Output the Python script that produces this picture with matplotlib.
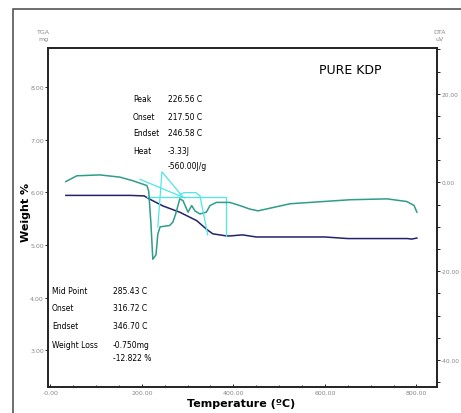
import numpy as np
import matplotlib
matplotlib.use("Agg")
import matplotlib.pyplot as plt
from matplotlib.patches import Rectangle
from matplotlib.ticker import MultipleLocator

# TGA curve (mg, left axis)
tga_t = [34, 100, 174, 205, 217, 246, 283, 320, 341, 355, 385, 393, 420, 450, 600, 650, 700, 780, 790, 801]
tga_w = [5.94, 5.94, 5.94, 5.93, 5.87, 5.74, 5.62, 5.46, 5.30, 5.21, 5.17, 5.17, 5.19, 5.15, 5.15, 5.12, 5.12, 5.12, 5.11, 5.13]

# DTA curve (uV, right axis)
dta_t = [34, 58, 108, 152, 180, 211, 215, 220, 224, 231, 235, 240, 261, 268, 274, 283, 290,
         301, 309, 316, 327, 341, 349, 363, 392, 414, 436, 454, 524, 655, 736, 779, 795, 801]
dta_v = [0.2, 1.5, 1.7, 1.2, 0.4, -0.7, -1.9, -9.4, -17.3, -16.3, -11.6, -10.0, -9.7, -8.9, -7.1, -3.7, -4.1,
         -6.7, -5.2, -6.4, -7.1, -6.7, -5.2, -4.5, -4.5, -5.2, -6.0, -6.4, -4.8, -3.9, -3.7, -4.3, -5.2, -6.7]

# construction lines
tan_t = [196, 294]
tan_v = [0.7, -3.5]
tri_t = [235, 244, 290]
tri_v = [-10.0, 2.4, -3.3]
bump_t = [283, 292, 318, 327, 344]
bump_v = [-2.8, -2.3, -2.3, -3.0, -11.8]
step_t = [211, 385, 385]
step_w = [5.91, 5.91, 5.17]

teal = '#2f9c8c'
navy = '#22226e'
cyan = '#4fe6e6'
grey = '#888888'
narrow = ['Liberation Sans Narrow', 'DejaVu Sans']

fig = plt.figure(figsize=(4.61, 4.14), dpi=100)
fig.patches.append(Rectangle((13/461, -0.1), 1.0, 1 - 10/414 + 0.1, transform=fig.transFigure,
                             fill=False, edgecolor='#555555', lw=1.2))

ax = fig.add_axes([48/461, 26/414, 389/461, 339/414])
ax2 = ax.twinx()

ax.plot(tga_t, tga_w, color=navy, lw=1.1)
ax.plot(step_t, step_w, color=cyan, lw=0.9)
ax2.plot(dta_t, dta_v, color=teal, lw=1.1)
ax2.plot(tan_t, tan_v, color=cyan, lw=0.9)
ax2.plot(tri_t, tri_v, color=cyan, lw=0.9)
ax2.plot(bump_t, bump_v, color=cyan, lw=0.9)

ax.set_xlim(-5, 845)
ax.set_ylim(2.30, 8.74)
ax2.set_ylim(-46.1, 30.3)

ax.set_xticks([0, 200, 400, 600, 800])
ax.set_xticklabels(['-0.00', '200.00', '400.00', '600.00', '800.00'])
ax.xaxis.set_minor_locator(MultipleLocator(50))
ax.set_yticks([3, 4, 5, 6, 7, 8])
ax.set_yticklabels(['3.00', '4.00', '5.00', '6.00', '7.00', '8.00'])
ax2.set_yticks([-40, -20, 0, 20])
ax2.set_yticklabels(['-40.00', '-20.00', '0.00', '20.00'])
ax2.yaxis.set_minor_locator(MultipleLocator(5))

ax.tick_params(axis='x', which='both', direction='in', length=2.5, width=0.6, labelsize=4.5,
               labelcolor=grey, pad=2)
ax.tick_params(axis='x', which='minor', length=1.5)
ax.tick_params(axis='y', direction='out', length=2, width=0.6, labelsize=4.5, labelcolor=grey, pad=1)
ax2.tick_params(axis='y', which='both', direction='out', length=2, width=0.6, labelsize=4.2,
                labelcolor=grey, pad=1)
for lbl in ax.get_xticklabels() + ax.get_yticklabels() + ax2.get_yticklabels():
    lbl.set_family(narrow)

for a in (ax, ax2):
    for s in a.spines.values():
        s.set_linewidth(1.2)
        s.set_color('#222222')

fig.text(43/461, 1 - 36/414, 'TGA\nmg', fontsize=4.5, color=grey, ha='center', va='center',
         linespacing=1.6, family=narrow)
fig.text(440/461, 1 - 36/414, 'DTA\nuV', fontsize=4.5, color=grey, ha='center', va='center',
         linespacing=1.6, family=narrow)
fig.text(26/461, 1 - 212/414, 'Weight %', fontsize=8, fontweight='bold', rotation=90, ha='center', va='center')
fig.text(241/461, 1 - 404/414, 'Temperature (ºC)', fontsize=8, fontweight='bold', ha='center', va='center')
fig.text(350/461, 1 - 70/414, 'PURE KDP', fontsize=9, ha='center', va='center')

peak_lbl = ['Peak', 'Onset', 'Endset', 'Heat', '']
peak_val = ['226.56 C', '217.50 C', '246.58 C', '-3.33J', '-560.00J/g']
peak_y = [100, 118, 134, 152, 167]
for l, v, y in zip(peak_lbl, peak_val, peak_y):
    fig.text(133/461, 1 - y/414, l, fontsize=5.5, family=narrow, va='center')
    fig.text(168/461, 1 - y/414, v, fontsize=5.5, family=narrow, va='center')

tg_lbl = ['Mid Point', 'Onset', 'Endset', 'Weight Loss', '']
tg_val = ['285.43 C', '316.72 C', '346.70 C', '-0.750mg', '-12.822 %']
tg_y = [291, 309, 327, 345, 359]
for l, v, y in zip(tg_lbl, tg_val, tg_y):
    fig.text(52/461, 1 - y/414, l, fontsize=5.5, family=narrow, va='center')
    fig.text(113/461, 1 - y/414, v, fontsize=5.5, family=narrow, va='center')

fig.savefig('out.png', dpi=100)
